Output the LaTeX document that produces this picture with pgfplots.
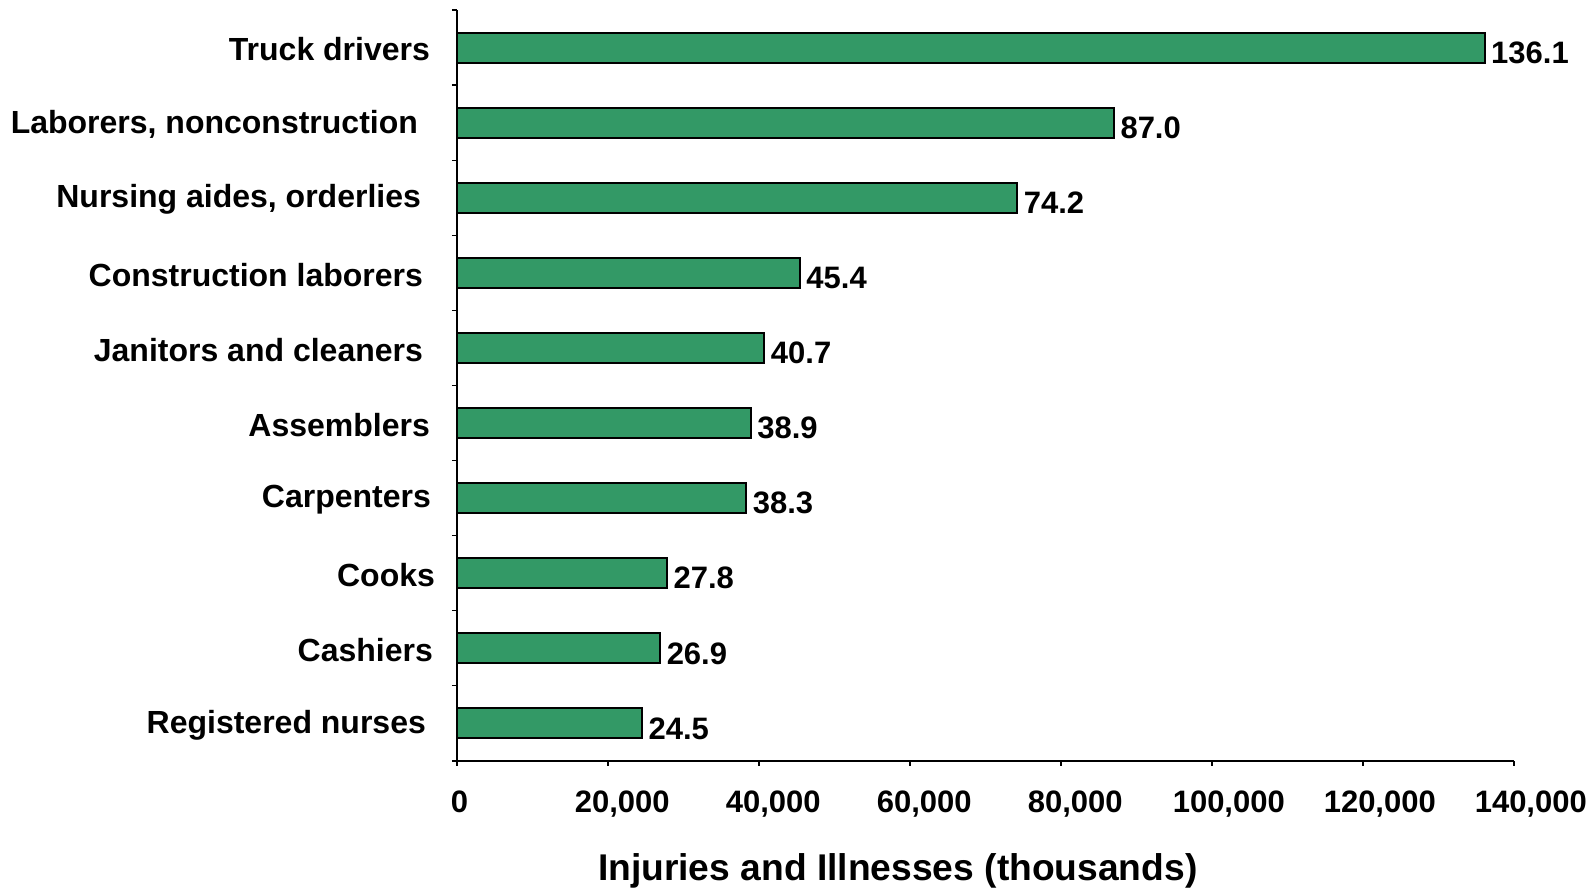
\documentclass[border=0pt]{standalone}
\usepackage{pgfplots}
\pgfplotsset{compat=1.18}
\usepackage{fontspec}
\setmainfont{Liberation Sans}
\definecolor{barGreen}{RGB}{51,153,102}

\begin{document}
\begin{tikzpicture}
  % page size: 1 px of the reference = 0.5pt
  \path[use as bounding box] (-228.5pt,-63.5pt) rectangle (569.5pt,380.5pt);
  \begin{axis}[
    at={(0,0)}, anchor=south west,
    scale only axis,
    width=528.5pt, height=375.5pt,
    xbar, bar width=15pt,
    xmin=0, xmax=140000,
    ymin=-0.5, ymax=9.5,
    axis x line*=bottom,
    axis y line*=left,
    axis line style={-, line width=0.6pt},
    tick align=outside,
    major tick length=2.5pt,
    minor tick length=2.5pt,
    xtick={0,20000,...,140000},
    scaled x ticks=false,
    % labels sit a little right of their ticks, as in the reference
    xticklabel={\makebox[1.3\width][r]{\pgfmathprintnumber[fixed, precision=0, 1000 sep={,}, assume math mode=true]{\tick}}},
    ytick={0,...,9},
    yticklabels={
      {Registered nurses\hspace*{4.5pt}},
      {Cashiers\hspace*{1pt}},
      {Cooks},
      {Carpenters\hspace*{2pt}},
      {Assemblers\hspace*{2.5pt}},
      {Janitors and cleaners\hspace*{6pt}},
      {Construction laborers\hspace*{6pt}},
      {Nursing aides, orderlies\hspace*{7pt}},
      {Laborers, nonconstruction\hspace*{8.5pt}},
      {Truck drivers\hspace*{2.5pt}}},
    major y tick style={draw=none},
    minor ytick={-0.5,0.5,...,9.5},
    tick style={black, line width=0.6pt},
    yticklabel style={font=\fontsize{16}{18}\selectfont\bfseries, xshift=-5pt, yshift=-1pt},
    xticklabel style={font=\fontsize{15.5}{18}\selectfont\bfseries, yshift=-9pt},
    point meta=explicit symbolic,
    nodes near coords={\pgfplotspointmeta},
    nodes near coords style={anchor=west, font=\fontsize{15.5}{18}\selectfont\bfseries,
      xshift=-0.5pt, yshift=-2.5pt},
    clip=false,
  ]
    \addplot[fill=barGreen, draw=black, line width=1pt] coordinates {
      (24500,0) [24.5]
      (26900,1) [26.9]
      (27800,2) [27.8]
      (38300,3) [38.3]
      (38900,4) [38.9]
      (40700,5) [40.7]
      (45400,6) [45.4]
      (74200,7) [74.2]
      (87000,8) [87.0]
      (136100,9) [136.1]
    };
    \node[font=\fontsize{18.6}{22}\selectfont\bfseries] at (axis description cs:0.417,0) [yshift=-55pt] {Injuries and Illnesses (thousands)};
  \end{axis}
\end{tikzpicture}
\end{document}
